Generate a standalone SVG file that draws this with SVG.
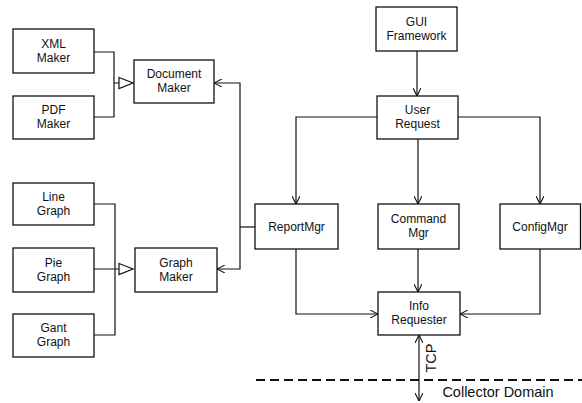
<svg xmlns="http://www.w3.org/2000/svg" width="582" height="403" viewBox="0 0 582 403">
<defs>
<marker id="arr" viewBox="0 0 8 8" refX="8" refY="4" markerWidth="8" markerHeight="8" markerUnits="userSpaceOnUse" orient="auto-start-reverse">
<path d="M0,0 L8,4 L0,8" fill="none" stroke="#111" stroke-width="1.1"/>
</marker>
</defs>
<style>
.box{fill:#fff;stroke:#111;stroke-width:1.3}
.t{font-family:"Liberation Sans",Arial,sans-serif;font-size:12px;fill:#111;text-anchor:middle}
.c{fill:none;stroke:#111;stroke-width:1.2}
.tri{fill:#fff;stroke:#111;stroke-width:1.2}
</style>
<rect width="582" height="403" fill="#fff"/>
<g id="connectors">
<path class="c" d="M94,52 H114 V117 H94 M114,83 H119"/>
<polygon class="tri" points="119,77.5 133,83 119,88.5"/>
<path class="c" d="M94,204 H115 V335 H94 M94,269 H119"/>
<polygon class="tri" points="119,263.5 133,269 119,274.5"/>
<path class="c" d="M255,227 H240"/>
<path class="c" d="M240,227 V83 H214" marker-end="url(#arr)"/>
<path class="c" d="M240,227 V269 H217" marker-end="url(#arr)"/>
<path class="c" d="M417,51 V96" marker-end="url(#arr)"/>
<path class="c" d="M377,117 H296 V204" marker-end="url(#arr)"/>
<path class="c" d="M458,117 H540 V204" marker-end="url(#arr)"/>
<path class="c" d="M418,139 V204" marker-end="url(#arr)"/>
<path class="c" d="M296,249 V314 H378" marker-end="url(#arr)"/>
<path class="c" d="M540,249 V314 H460" marker-end="url(#arr)"/>
<path class="c" d="M418,249 V292" marker-end="url(#arr)"/>
<path class="c" d="M419,335 V401" marker-start="url(#arr)" marker-end="url(#arr)"/>
<path d="M256,380 H582" fill="none" stroke="#111" stroke-width="2" stroke-dasharray="9,5"/>
<text x="436" y="358" transform="rotate(-90 436 358)" style="font-family:'Liberation Sans',Arial,sans-serif;font-size:14.5px;fill:#111;text-anchor:middle">TCP</text>
<text x="498" y="397" style="font-family:'Liberation Sans',Arial,sans-serif;font-size:14.5px;fill:#111;text-anchor:middle">Collector Domain</text>
</g>
<g id="xml"><rect class="box" x="13" y="29" width="81" height="44"/><text class="t" x="53.5" y="47.5">XML</text><text class="t" x="53.5" y="61.5">Maker</text></g>
<g id="pdf"><rect class="box" x="13" y="96" width="81" height="43"/><text class="t" x="53.5" y="114">PDF</text><text class="t" x="53.5" y="128">Maker</text></g>
<g id="doc"><rect class="box" x="134" y="60" width="80" height="43"/><text class="t" x="174" y="78">Document</text><text class="t" x="174" y="92">Maker</text></g>
<g id="line"><rect class="box" x="13" y="183" width="81" height="42"/><text class="t" x="53.5" y="200.5">Line</text><text class="t" x="53.5" y="214.5">Graph</text></g>
<g id="pie"><rect class="box" x="13" y="248" width="81" height="44"/><text class="t" x="53.5" y="266.5">Pie</text><text class="t" x="53.5" y="280.5">Graph</text></g>
<g id="gant"><rect class="box" x="13" y="314" width="81" height="43"/><text class="t" x="53.5" y="332">Gant</text><text class="t" x="53.5" y="346">Graph</text></g>
<g id="graph"><rect class="box" x="135" y="248" width="82" height="44"/><text class="t" x="176" y="266.5">Graph</text><text class="t" x="176" y="280.5">Maker</text></g>
<g id="gui"><rect class="box" x="376" y="7" width="81" height="44"/><text class="t" x="416.5" y="25.5">GUI</text><text class="t" x="416.5" y="39.5">Framework</text></g>
<g id="user"><rect class="box" x="377" y="96" width="81" height="43"/><text class="t" x="417.5" y="114">User</text><text class="t" x="417.5" y="128">Request</text></g>
<g id="report"><rect class="box" x="255" y="204" width="83" height="45"/><text class="t" x="296.5" y="230.5">ReportMgr</text></g>
<g id="command"><rect class="box" x="378" y="204" width="81" height="45"/><text class="t" x="418.5" y="222.5">Command</text><text class="t" x="418.5" y="236.5">Mgr</text></g>
<g id="config"><rect class="box" x="500" y="204" width="80.5" height="45"/><text class="t" x="540" y="230.5">ConfigMgr</text></g>
<g id="info"><rect class="box" x="378" y="292" width="82" height="43"/><text class="t" x="419" y="310">Info</text><text class="t" x="419" y="324">Requester</text></g>
</svg>
